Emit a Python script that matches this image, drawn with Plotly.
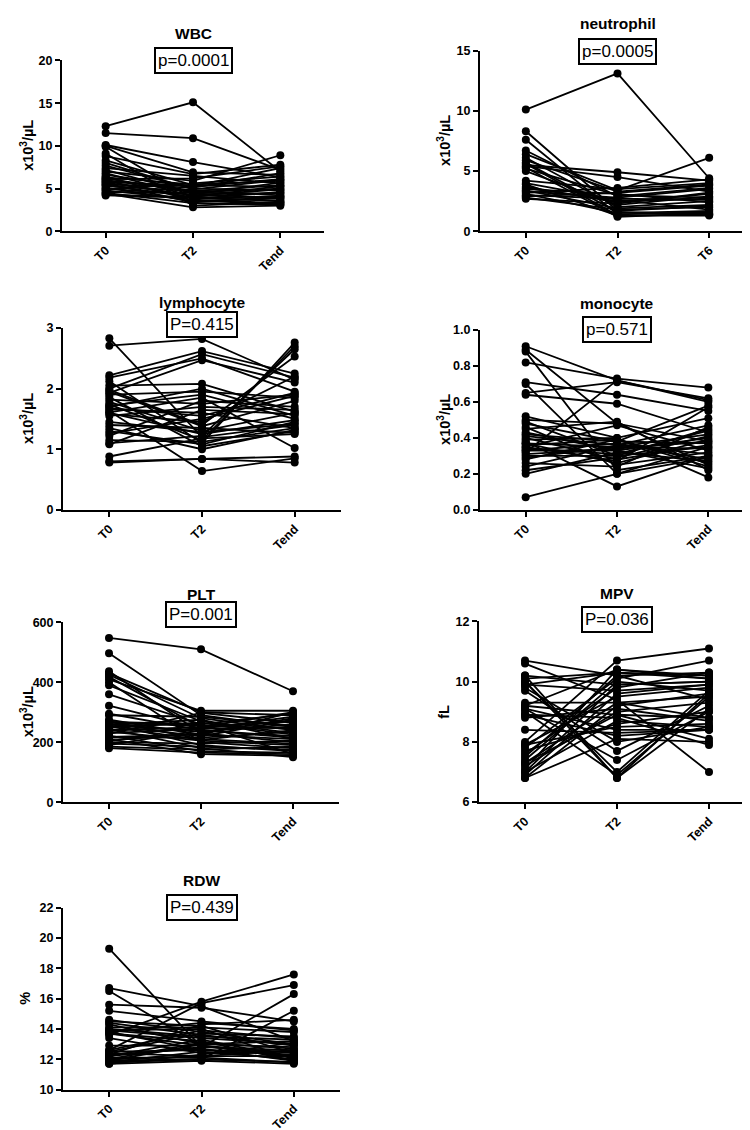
import plotly.graph_objects as go

W, H = 750, 1130

# ---------------- data ----------------
times_std = ["T0", "T2", "Tend"]
times_neu = ["T0", "T2", "T6"]

wbc_t0 = [12.3, 11.5, 10.1, 10.0, 9.9, 9.1, 8.8, 8.3, 8.0, 7.7, 7.4, 7.2, 7.0, 6.8, 6.6, 6.4, 6.3, 6.2, 6.0, 5.9, 5.8, 5.7, 5.6, 5.5, 5.4, 5.3, 5.1, 5.0, 4.9, 4.8, 4.6, 4.5, 4.4, 4.3, 4.2, 6.1]
wbc_t2 = [15.1, 10.9, 8.1, 6.9, 3.8, 3.0, 6.7, 5.4, 4.9, 5.0, 6.5, 4.4, 5.9, 4.1, 5.2, 3.6, 5.5, 4.6, 4.8, 3.9, 5.3, 4.2, 3.4, 5.1, 4.0, 4.7, 3.5, 4.3, 5.6, 3.7, 4.5, 3.3, 2.8, 4.0, 3.9, 6.2]
wbc_te = [7.0, 7.2, 6.3, 6.6, 4.6, 3.4, 7.8, 5.2, 6.0, 4.8, 5.6, 3.8, 8.9, 4.5, 6.1, 3.2, 5.9, 5.0, 4.2, 3.6, 7.4, 4.9, 3.9, 6.8, 3.5, 5.4, 4.0, 5.7, 6.4, 3.3, 4.4, 3.1, 3.0, 5.3, 4.1, 7.6]

neu_t0 = [10.1, 8.3, 7.6, 6.7, 6.4, 6.1, 5.9, 5.7, 5.5, 5.4, 5.3, 5.2, 5.0, 4.2, 4.0, 3.9, 3.7, 3.5, 3.4, 3.3, 3.2, 3.1, 3.0, 2.9, 2.8, 2.7, 5.6, 3.6]
neu_t2 = [13.1, 1.7, 1.4, 2.9, 3.4, 2.0, 3.3, 1.6, 4.9, 4.5, 1.2, 3.0, 2.2, 3.5, 2.6, 1.3, 2.4, 3.1, 1.9, 2.8, 3.6, 1.5, 2.7, 3.2, 1.8, 2.3, 1.3, 2.5]
neu_t6 = [4.4, 2.1, 1.6, 3.6, 6.1, 2.5, 3.9, 1.4, 4.2, 3.3, 1.5, 2.8, 2.9, 4.0, 1.8, 1.3, 3.1, 2.4, 2.2, 3.5, 4.3, 1.7, 2.6, 3.8, 2.0, 3.2, 1.4, 2.7]

lym_t0 = [2.83, 2.71, 2.22, 2.18, 2.12, 2.05, 1.98, 1.93, 1.90, 1.86, 1.82, 1.78, 1.74, 1.70, 1.66, 1.63, 1.61, 1.60, 1.58, 1.55, 1.40, 1.30, 1.26, 1.22, 1.15, 1.10, 1.08, 0.88, 0.80, 0.78, 2.00, 1.68, 1.72, 1.95, 1.45, 1.35]
lym_t2 = [1.20, 2.82, 2.62, 2.50, 1.10, 2.08, 1.40, 2.47, 1.95, 1.05, 1.75, 1.30, 1.15, 2.00, 1.60, 0.64, 1.85, 1.25, 1.45, 1.70, 1.35, 1.08, 1.50, 1.80, 1.12, 1.22, 1.65, 1.18, 0.84, 0.84, 2.57, 1.55, 1.90, 1.38, 1.28, 1.00]
lym_te = [1.40, 2.15, 2.25, 1.95, 2.76, 1.62, 2.53, 2.10, 1.85, 1.30, 1.90, 1.60, 2.70, 1.55, 1.35, 0.85, 1.02, 1.48, 2.20, 1.65, 1.27, 1.45, 1.88, 1.70, 1.35, 2.65, 1.58, 1.25, 0.78, 0.88, 2.18, 1.93, 1.50, 1.80, 1.42, 1.32]

mon_t0 = [0.91, 0.89, 0.88, 0.82, 0.71, 0.70, 0.65, 0.64, 0.52, 0.50, 0.49, 0.48, 0.46, 0.45, 0.43, 0.41, 0.40, 0.39, 0.38, 0.37, 0.36, 0.35, 0.35, 0.34, 0.33, 0.32, 0.31, 0.30, 0.28, 0.26, 0.24, 0.22, 0.20, 0.07, 0.42, 0.37, 0.33, 0.29]
mon_t2 = [0.72, 0.48, 0.22, 0.73, 0.64, 0.20, 0.71, 0.59, 0.40, 0.48, 0.30, 0.38, 0.25, 0.49, 0.33, 0.36, 0.28, 0.40, 0.13, 0.35, 0.39, 0.27, 0.47, 0.31, 0.37, 0.72, 0.34, 0.30, 0.39, 0.24, 0.36, 0.29, 0.32, 0.20, 0.38, 0.26, 0.33, 0.35]
mon_te = [0.60, 0.38, 0.30, 0.68, 0.55, 0.35, 0.62, 0.43, 0.51, 0.25, 0.45, 0.58, 0.32, 0.22, 0.40, 0.47, 0.36, 0.18, 0.30, 0.42, 0.26, 0.57, 0.33, 0.44, 0.28, 0.61, 0.38, 0.35, 0.24, 0.46, 0.31, 0.41, 0.27, 0.29, 0.37, 0.39, 0.23, 0.34]

plt_t0 = [548, 497, 437, 430, 425, 418, 410, 400, 390, 360, 322, 295, 290, 275, 270, 265, 262, 260, 258, 255, 250, 245, 240, 235, 228, 222, 215, 210, 205, 200, 195, 190, 185, 180, 268, 252, 230, 218]
plt_t2 = [510, 290, 230, 300, 280, 250, 305, 200, 270, 260, 245, 240, 285, 225, 210, 255, 190, 235, 275, 220, 265, 180, 250, 205, 298, 170, 215, 160, 230, 195, 185, 240, 175, 165, 260, 208, 245, 225]
plt_te = [370, 250, 200, 290, 240, 270, 305, 180, 230, 160, 285, 215, 255, 300, 195, 245, 170, 260, 210, 275, 225, 150, 300, 190, 265, 165, 235, 155, 280, 205, 175, 220, 185, 160, 295, 240, 250, 210]

mpv_t0 = [10.7, 10.6, 10.2, 10.1, 10.0, 9.9, 9.8, 9.7, 9.3, 9.2, 9.1, 9.0, 8.9, 8.8, 8.4, 8.0, 7.9, 7.8, 7.7, 7.6, 7.5, 7.4, 7.3, 7.2, 7.1, 7.0, 6.9, 6.8, 6.8, 10.2, 9.1, 7.0, 7.9, 9.9, 8.9, 7.3, 10.0, 9.2]
mpv_t2 = [10.2, 9.4, 9.9, 10.3, 6.8, 9.7, 8.0, 7.7, 9.3, 10.4, 8.4, 6.9, 8.8, 9.1, 8.3, 10.7, 9.5, 10.1, 8.6, 9.8, 10.2, 10.0, 8.9, 9.0, 10.4, 8.7, 9.6, 8.1, 9.2, 6.8, 7.4, 9.9, 8.5, 10.3, 8.2, 9.3, 7.0, 8.9]
mpv_te = [10.3, 7.0, 10.0, 10.2, 9.6, 9.9, 8.5, 9.2, 8.8, 10.1, 8.4, 9.5, 7.9, 8.7, 8.4, 11.1, 9.8, 10.7, 9.0, 10.3, 9.4, 9.7, 8.1, 9.3, 10.2, 8.5, 9.9, 8.0, 9.6, 9.1, 9.0, 10.0, 8.6, 10.1, 8.4, 9.5, 9.7, 8.8]

rdw_t0 = [19.3, 16.7, 16.5, 15.6, 15.2, 14.6, 14.5, 14.3, 14.0, 13.9, 13.8, 13.7, 13.6, 13.4, 12.6, 12.5, 12.4, 12.3, 12.2, 12.1, 12.0, 11.9, 11.8, 11.7, 11.7, 13.8, 14.4, 12.3, 12.6, 13.7, 12.0, 14.1, 12.2, 11.8, 13.9, 12.5, 12.9, 11.9]
rdw_t2 = [12.8, 15.5, 12.9, 15.4, 14.5, 13.8, 14.2, 13.0, 13.5, 14.0, 12.6, 13.2, 15.8, 12.4, 15.7, 13.7, 12.2, 14.3, 12.8, 12.1, 13.1, 12.0, 12.5, 11.9, 12.3, 14.4, 13.6, 12.7, 13.9, 12.9, 12.2, 14.1, 13.3, 12.0, 13.4, 12.6, 12.9, 13.0]
rdw_te = [12.6, 13.2, 12.1, 14.5, 13.9, 13.0, 12.4, 12.8, 13.3, 12.0, 12.3, 11.9, 17.6, 12.5, 16.9, 13.5, 12.2, 14.6, 16.3, 11.8, 12.7, 15.2, 12.0, 11.7, 13.1, 14.0, 12.9, 11.9, 13.4, 12.2, 12.6, 13.8, 12.1, 11.8, 13.0, 12.5, 12.4, 13.2]

titles = ["WBC", "neutrophil", "lymphocyte", "monocyte", "PLT", "MPV", "RDW"]
pvals = ["p=0.0001", "p=0.0005", "P=0.415", "p=0.571", "P=0.001", "P=0.036", "P=0.439"]
ylabels = ["x10<sup>3</sup>/µL", "x10<sup>3</sup>/µL", "x10<sup>3</sup>/µL", "x10<sup>3</sup>/µL",
           "x10<sup>3</sup>/µL", "fL", "%"]
yticks = [[0, 5, 10, 15, 20], [0, 5, 10, 15], [0, 1, 2, 3],
          [0.0, 0.2, 0.4, 0.6, 0.8, 1.0], [0, 200, 400, 600], [6, 8, 10, 12],
          [10, 12, 14, 16, 18, 20, 22]]

panels_data = [
    (times_std, wbc_t0, wbc_t2, wbc_te),
    (times_neu, neu_t0, neu_t2, neu_t6),
    (times_std, lym_t0, lym_t2, lym_te),
    (times_std, mon_t0, mon_t2, mon_te),
    (times_std, plt_t0, plt_t2, plt_te),
    (times_std, mpv_t0, mpv_t2, mpv_te),
    (times_std, rdw_t0, rdw_t2, rdw_te),
]

# ---------------- layout geometry (pixels) ----------------
# (x_left, x_right, y_top, y_bottom)
boxes = [
    (54, 316, 46, 219),
    (472, 747, 36, 219),
    (55, 333, 317, 501),
    (472, 746, 319, 501),
    (55, 331, 615, 797),
    (471, 747, 614, 797),
    (55, 332, 904, 1088),
]
title_y = [19, 9, 291, 292, 587, 586, 876]
pbox_y = [46, 36.5, 313.5, 318, 607.5, 612.5, 903.5]
ylab_x = [19, 436, 19, 436, 19, 436, 17]

FONT = "Liberation Sans, Arial, sans-serif"

fig = go.Figure()
annotations = []
layout = {}

for i, (cats, a, b, c) in enumerate(panels_data):
    n = i + 1
    xs, ys = [], []
    for v0, v1, v2 in zip(a, b, c):
        xs += [cats[0], cats[1], cats[2], None]
        ys += [v0, v1, v2, None]
    fig.add_trace(go.Scatter(
        x=xs, y=ys, mode="lines+markers",
        line=dict(color="black", width=1.8),
        marker=dict(color="black", size=8),
        connectgaps=False, cliponaxis=False, showlegend=False,
        xaxis=f"x{n}", yaxis=f"y{n}", hoverinfo="skip"))

    xl, xr, yt, yb = boxes[i]
    xd = [xl / W, xr / W]
    yd = [1 - yb / H, 1 - yt / H]
    tv = yticks[i]
    ax_common = dict(showline=True, linecolor="black", linewidth=2,
                     ticks="outside", ticklen=5, tickwidth=1.5, tickcolor="black",
                     showgrid=False, zeroline=False,
                     tickfont=dict(family=FONT, size=12.5, color="black", weight="bold"))
    layout[f"xaxis{n}"] = dict(domain=xd, anchor=f"y{n}", type="category",
                               categoryorder="array", categoryarray=cats,
                               range=[-0.5, 2.5], tickangle=-45, **ax_common)
    ticktext = [f"{t:.1f}" for t in tv] if i == 3 else [str(t) for t in tv]
    layout[f"yaxis{n}"] = dict(domain=yd, anchor=f"x{n}", range=[tv[0], tv[-1]],
                               tickvals=tv, ticktext=ticktext, **ax_common)

    xc = (xl + xr) / 2 / W
    annotations.append(dict(
        text=titles[i], x=xc, y=1 - title_y[i] / H, xref="paper", yref="paper",
        xanchor="center", yanchor="middle", showarrow=False,
        font=dict(family=FONT, size=15.5, color="black", weight="bold")))
    annotations.append(dict(
        text=pvals[i], x=xc, y=1 - pbox_y[i] / H, xref="paper", yref="paper",
        xanchor="center", yanchor="middle", showarrow=False,
        bordercolor="black", borderwidth=2, borderpad=2, bgcolor="white",
        font=dict(family=FONT, size=17, color="black")))
    annotations.append(dict(
        text=ylabels[i], x=ylab_x[i] / W, y=1 - (yt + yb) / 2 / H,
        xref="paper", yref="paper", xanchor="center", yanchor="middle",
        textangle=-90, showarrow=False,
        font=dict(family=FONT, size=14.5, color="black", weight="bold")))

fig.update_layout(
    width=W, height=H, margin=dict(l=0, r=0, t=0, b=0),
    paper_bgcolor="white", plot_bgcolor="white",
    annotations=annotations, **layout)

fig.write_html("out.html")
